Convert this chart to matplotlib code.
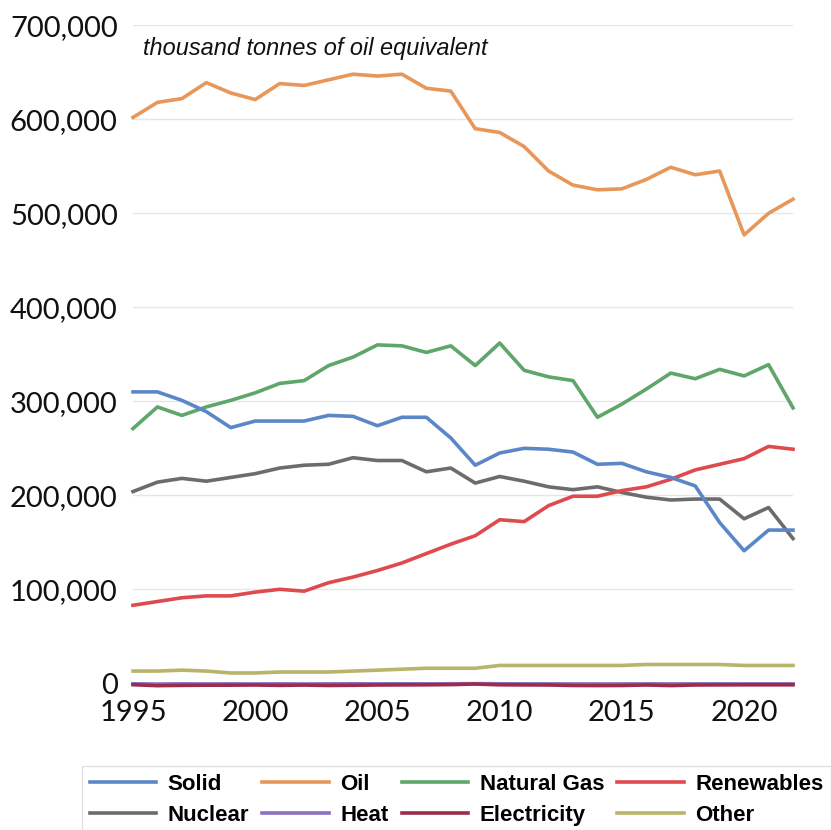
import matplotlib
matplotlib.use("Agg")
import matplotlib.pyplot as plt
from matplotlib.ticker import FuncFormatter, MultipleLocator

years = list(range(1995, 2023))

solid = [310, 310, 301, 289, 272, 279, 279, 279, 285, 284, 274, 283, 283, 261,
         232, 245, 250, 249, 246, 233, 234, 225, 219, 210, 171, 141, 163, 163]
oil = [602, 618, 622, 639, 628, 621, 638, 636, 642, 648, 646, 648, 633, 630,
       590, 586, 571, 545, 530, 525, 526, 536, 549, 541, 545, 477, 500, 515]
natural_gas = [271, 294, 285, 294, 301, 309, 319, 322, 338, 347, 360, 359, 352, 359,
               338, 362, 333, 326, 322, 283, 297, 313, 330, 324, 334, 327, 339, 293]
renewables = [83, 87, 91, 93, 93, 97, 100, 98, 107, 113, 120, 128, 138, 148,
              157, 174, 172, 189, 199, 199, 205, 209, 217, 227, 233, 239, 252, 249]
nuclear = [204, 214, 218, 215, 219, 223, 229, 232, 233, 240, 237, 237, 225, 229,
           213, 220, 215, 209, 206, 209, 203, 198, 195, 196, 196, 175, 187, 154]
heat = [-0.5, -0.8, -0.6, -0.7, -0.6, -0.7, -0.6, -0.7, -0.6, -0.5, -0.6, -0.5, -0.6, -0.5,
        -0.4, -0.5, -0.6, -0.6, -0.7, -0.7, -0.7, -0.6, -0.7, -0.6, -0.6, -0.6, -0.6, -0.6]
electricity = [-1.5, -2.5, -2.2, -2.0, -2.0, -1.8, -2.2, -1.9, -2.3, -2.1, -1.8, -1.7, -1.6, -1.4,
               -0.8, -1.6, -1.7, -1.8, -2.3, -2.4, -2.3, -1.8, -2.4, -1.8, -1.7, -1.6, -1.6, -1.6]
other = [13, 13, 14, 13, 11, 11, 12, 12, 12, 13, 14, 15, 16, 16,
         16, 19, 19, 19, 19, 19, 19, 20, 20, 20, 20, 19, 19, 19]

series = {
    "Solid": (solid, "#5b87c8"),
    "Oil": (oil, "#e8975a"),
    "Natural Gas": (natural_gas, "#5ea66a"),
    "Renewables": (renewables, "#df4a4f"),
    "Nuclear": (nuclear, "#6c6c6c"),
    "Heat": (heat, "#8b70c0"),
    "Electricity": (electricity, "#9c2c4c"),
    "Other": (other, "#b7b56a"),
}

fig = plt.figure(figsize=(8.31, 8.30), dpi=100)
ax = fig.add_axes([133 / 831, 1 - 683.3 / 830, 660 / 831, 658 / 830])

# bottom-most first so the big series end up on top
draw_order = ["Other", "Heat", "Electricity", "Nuclear", "Renewables",
              "Natural Gas", "Oil", "Solid"]
handles = {}
for name in draw_order:
    vals, color = series[name]
    ln, = ax.plot(years, [v * 1000 for v in vals], color=color, lw=2.6,
                  clip_on=False, solid_joinstyle="round")
    handles[name] = ln

ax.set_xlim(1995, 2022)
ax.set_ylim(0, 700000)
ax.yaxis.set_major_locator(MultipleLocator(100000))
ax.yaxis.set_major_formatter(FuncFormatter(lambda v, p: f"{int(v):,}"))
ax.set_xticks([1995, 2000, 2005, 2010, 2015, 2020])
ax.grid(axis="y", color="#e6e6e6", lw=1)
ax.set_axisbelow(True)
for s in ax.spines.values():
    s.set_visible(False)
ax.tick_params(axis="both", length=0, labelsize=21, colors="#111111")
ax.tick_params(axis="y", pad=11)
ax.tick_params(axis="x", pad=12)
for lab in ax.get_xticklabels() + ax.get_yticklabels():
    lab.set_family("Lato")

ax.text(143 / 831, 1 - 48 / 830, "thousand tonnes of oil equivalent",
        transform=fig.transFigure, fontsize=16.9, style="italic",
        family="Liberation Sans", va="center", ha="left", color="#111111")

# legend is filled column by column, so list it to read row by row
leg_order = ["Solid", "Nuclear", "Oil", "Heat",
             "Natural Gas", "Electricity", "Renewables", "Other"]
leg = fig.legend([handles[n] for n in leg_order], leg_order, ncol=4,
                 loc="upper left", bbox_to_anchor=(82 / 831, 1 - 766 / 830),
                 prop={"family": "Liberation Sans", "weight": "bold", "size": 16},
                 handlelength=3.0, handletextpad=0.5, columnspacing=0.6,
                 labelspacing=0.45, borderpad=0.35, borderaxespad=0,
                 frameon=True, fancybox=False)
leg.get_frame().set_edgecolor("#d9d9d9")
leg.get_frame().set_linewidth(1)

fig.savefig("out.png", dpi=100)
